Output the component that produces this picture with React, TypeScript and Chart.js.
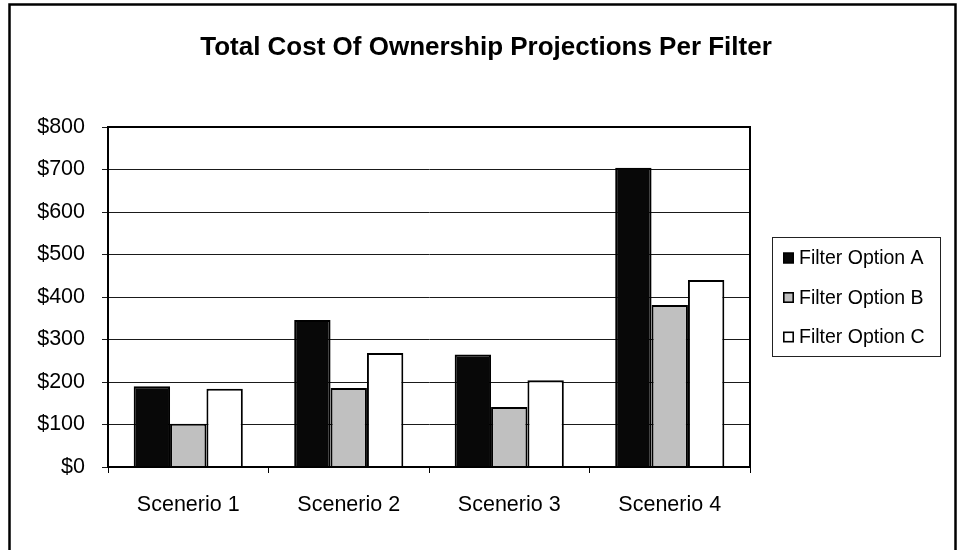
import React, { useEffect, useRef } from "react";
import { Chart, registerables } from "chart.js";

Chart.register(...registerables);

const TITLE = "Total Cost Of Ownership Projections Per Filter";
const categories = ["Scenerio 1", "Scenerio 2", "Scenerio 3", "Scenerio 4"];
const seriesNames = ["Filter Option A", "Filter Option B", "Filter Option C"];
const optionA = [190, 346, 265, 704];
const optionB = [102, 186, 141, 381];
const optionC = [184, 268, 204, 440];
const seriesColors = ["#080808", "#c0c0c0", "#ffffff"];
const yMin = 0;
const yMax = 800;
const yStep = 100;

const FONT = "'Liberation Sans', Arial, sans-serif";

const decorPlugin = {
  id: "decor",
  beforeDraw(chart: any) {
    const ctx = chart.ctx;
    ctx.save();
    ctx.fillStyle = "#ffffff";
    ctx.fillRect(0, 0, chart.width, chart.height);
    ctx.restore();
  },
  afterDraw(chart: any) {
    const ctx = chart.ctx;
    const ca = chart.chartArea;
    ctx.save();
    // outer border
    ctx.strokeStyle = "#000";
    ctx.lineWidth = 2.5;
    ctx.strokeRect(9.5, 4.5, 946, 600);
    // plot area border
    ctx.lineWidth = 2;
    ctx.strokeRect(ca.left, ca.top, ca.right - ca.left, ca.bottom - ca.top);
    // title
    ctx.fillStyle = "#000";
    ctx.font = `bold 26px ${FONT}`;
    ctx.textAlign = "center";
    ctx.textBaseline = "alphabetic";
    ctx.fillText(TITLE, 486, 55);
    // legend
    const lx = ca.right + 22;
    const midY = (ca.top + ca.bottom) / 2;
    const ly = midY - 60;
    ctx.lineWidth = 1;
    ctx.strokeStyle = "#222";
    ctx.strokeRect(lx + 0.5, ly + 0.5, 168, 119);
    ctx.font = `19.5px ${FONT}`;
    ctx.textAlign = "left";
    ctx.textBaseline = "middle";
    chart.data.datasets.forEach((ds: any, i: number) => {
      const cy = ly + 21 + i * 39.5;
      ctx.fillStyle = ds.backgroundColor;
      ctx.fillRect(lx + 11, cy - 5.5, 11, 11);
      ctx.lineWidth = 1.6;
      ctx.strokeStyle = "#000";
      ctx.strokeRect(lx + 11.8, cy - 4.7, 9.4, 9.4);
      ctx.fillStyle = "#000";
      ctx.fillText(ds.label, lx + 27, cy + 1);
    });
    ctx.restore();
  },
};

export default function App() {
  const canvasRef = useRef<HTMLCanvasElement | null>(null);

  useEffect(() => {
    if (!canvasRef.current) return;
    const values = [optionA, optionB, optionC];
    const chart = new Chart(canvasRef.current, {
      type: "bar",
      data: {
        labels: categories,
        datasets: seriesNames.map((name, i) => ({
          label: name,
          data: values[i],
          backgroundColor: seriesColors[i],
          borderColor: "#000",
          borderWidth: 2,
          barPercentage: 1.0,
          categoryPercentage: 0.68,
        })),
      },
      options: {
        animation: false,
        responsive: true,
        maintainAspectRatio: false,
        layout: { padding: { left: 0, right: 209, top: 127, bottom: 0 } },
        plugins: {
          legend: { display: false },
          title: { display: false },
          tooltip: { enabled: false },
        },
        scales: {
          x: {
            afterFit: (s: any) => {
              s.height = 83;
            },
            grid: {
              display: true,
              drawOnChartArea: false,
              drawTicks: true,
              tickLength: 6,
              color: "#000",
              lineWidth: 1,
              offset: true,
            },
            border: { display: true, color: "#000", width: 2 },
            ticks: {
              color: "#000",
              padding: 19,
              font: { family: FONT, size: 21.5 },
              maxRotation: 0,
            },
          },
          y: {
            min: yMin,
            max: yMax,
            afterFit: (s: any) => {
              s.width = 108;
            },
            grid: {
              color: "#1a1a1a",
              lineWidth: 1,
              tickLength: 6,
              drawTicks: true,
            },
            border: { display: true, color: "#000", width: 2 },
            ticks: {
              stepSize: yStep,
              color: "#000",
              padding: 17,
              font: { family: FONT, size: 21.5 },
              callback: (v: any) => "$" + v,
            },
          },
        },
      },
      plugins: [decorPlugin],
    });
    return () => chart.destroy();
  }, []);

  return (
    <div
      style={{
        position: "absolute",
        left: 0,
        top: 0,
        width: "959px",
        height: "550px",
        background: "#fff",
      }}
    >
      <canvas ref={canvasRef} />
    </div>
  );
}
